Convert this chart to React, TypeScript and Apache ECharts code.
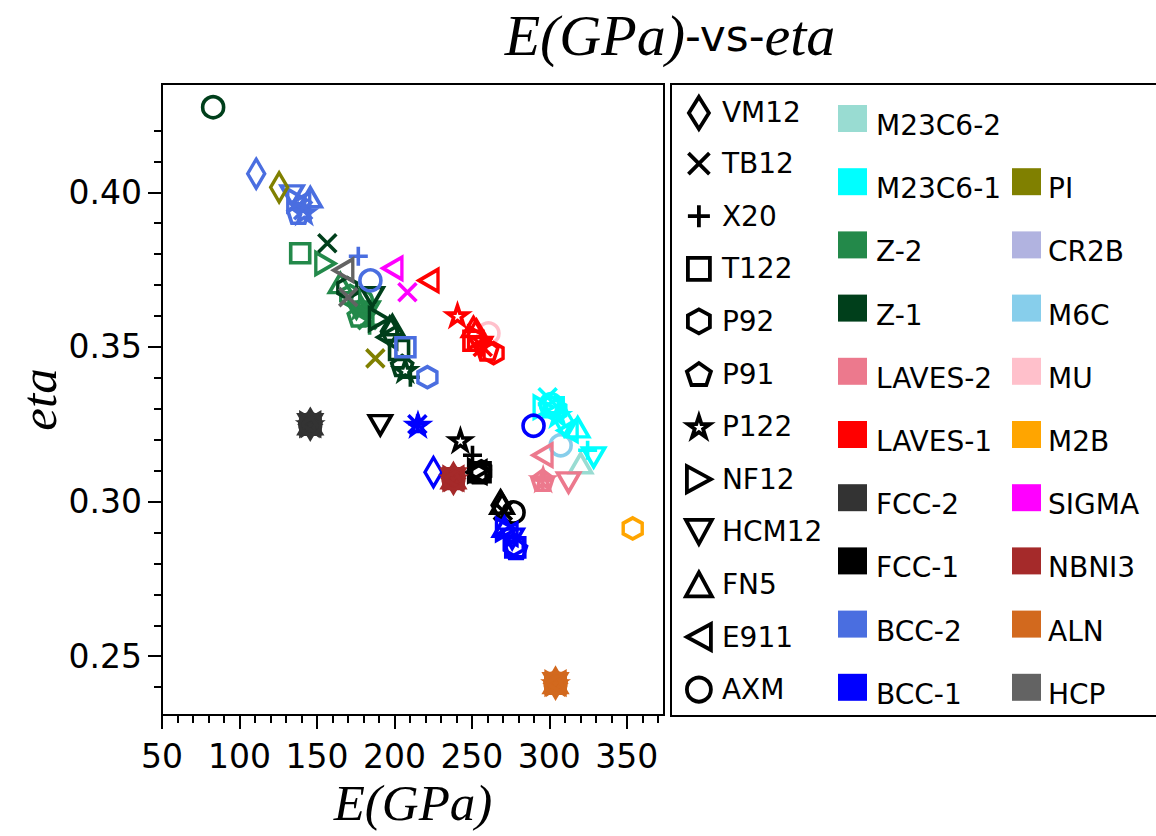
import React, { useEffect, useRef } from 'react';
import * as echarts from 'echarts';

// ---------- data ----------
const materials = ['VM12', 'TB12', 'X20', 'T122', 'P92', 'P91', 'P122', 'NF12', 'HCM12', 'FN5', 'E911', 'AXM'];

const phaseNames = ['M23C6-2', 'M23C6-1', 'Z-2', 'Z-1', 'LAVES-2', 'LAVES-1', 'FCC-2', 'FCC-1', 'BCC-2', 'BCC-1',
  'PI', 'CR2B', 'M6C', 'MU', 'M2B', 'SIGMA', 'NBNI3', 'ALN', 'HCP'];

const phaseColors = ['#99dcd2', '#00ffff', '#23894a', '#003f1b', '#ec798d', '#ff0000', '#333333', '#000000', '#4a6ee0', '#0000ff',
  '#808000', '#b1b3e0', '#87ceeb', '#ffc0cb', '#ffa500', '#ff00ff', '#a52a2a', '#d2691e', '#636363'];

// [material, E (GPa), eta]
const ptsM23C6_2 = [['FN5', 320.2, 0.3124]];
const ptsM23C6_1 = [['TB12', 298.9, 0.3337], ['NF12', 296.3, 0.3305], ['T122', 302.8, 0.3305], ['P92', 304.5, 0.3295],
  ['P91', 300.5, 0.331], ['P122', 305.5, 0.328], ['VM12', 309.5, 0.326], ['FN5', 318.3, 0.324], ['E911', 311.8, 0.323],
  ['X20', 324.7, 0.3166], ['HCM12', 328.6, 0.3143], ['AXM', 301, 0.3315]];
const ptsZ2 = [['T122', 139.2, 0.3803], ['NF12', 155.4, 0.377], ['FN5', 165.1, 0.3706], ['P92', 171.5, 0.3665],
  ['VM12', 175.5, 0.364], ['P122', 178, 0.3628], ['E911', 180, 0.3612], ['HCM12', 183, 0.3615], ['P91', 177, 0.36],
  ['TB12', 182.5, 0.3586], ['X20', 184, 0.357], ['AXM', 179, 0.365]];
const ptsZ1 = [['AXM', 83, 0.4275], ['TB12', 156.7, 0.3835], ['P92', 169.6, 0.369], ['HCM12', 185.7, 0.3661],
  ['NF12', 190, 0.359], ['FN5', 198.7, 0.357], ['VM12', 197, 0.355], ['E911', 195.4, 0.3531], ['T122', 203, 0.349],
  ['P91', 205, 0.344], ['P122', 207, 0.3425], ['X20', 210.3, 0.3402]];
const ptsLaves2 = [['E911', 295.6, 0.315], ['P91', 295.6, 0.3069], ['P122', 296, 0.3072], ['X20', 295.8, 0.307],
  ['HCM12', 312.4, 0.3062]];
const ptsLaves1 = [['E911', 222, 0.3715], ['P122', 240.7, 0.3602], ['FN5', 251, 0.3564], ['VM12', 253, 0.354],
  ['NF12', 254, 0.353], ['T122', 251, 0.352], ['X20', 256, 0.351], ['HCM12', 255.6, 0.35], ['TB12', 257, 0.35],
  ['P91', 260, 0.349], ['P92', 264, 0.348]];
const ptsFcc2 = [['VM12', 145.7, 0.325], ['TB12', 145.7, 0.325], ['X20', 145.7, 0.325], ['T122', 145.7, 0.325],
  ['P92', 145.7, 0.325], ['P91', 145.7, 0.325], ['P122', 145.7, 0.325], ['NF12', 145.7, 0.325], ['HCM12', 145.7, 0.325],
  ['FN5', 145.7, 0.325], ['E911', 145.7, 0.325], ['AXM', 145.7, 0.325]];
const ptsFcc1 = [['HCM12', 190.9, 0.3247], ['P122', 242.6, 0.3198], ['X20', 250.4, 0.315], ['NF12', 254, 0.31],
  ['E911', 253, 0.3095], ['T122', 255.6, 0.3095], ['P91', 255, 0.3093], ['P92', 256, 0.3098], ['VM12', 268.5, 0.2988],
  ['FN5', 269.5, 0.2993], ['TB12', 270, 0.297], ['AXM', 276.9, 0.2965]];
const ptsBcc2 = [['VM12', 110.8, 0.406], ['HCM12', 134, 0.399], ['NF12', 137.3, 0.3974], ['E911', 139.2, 0.3964],
  ['FN5', 145.7, 0.3984], ['TB12', 141.1, 0.3942], ['P91', 138, 0.3932], ['P122', 141.8, 0.3935], ['X20', 176.7, 0.3793],
  ['AXM', 184.5, 0.3715], ['T122', 207.1, 0.3499], ['P92', 221.3, 0.3402]];
const ptsBcc1 = [['TB12', 214.8, 0.325], ['X20', 215, 0.3252], ['P122', 215.2, 0.3248], ['VM12', 225.2, 0.3095],
  ['AXM', 289.8, 0.3245], ['FN5', 271, 0.2918], ['NF12', 272, 0.291], ['E911', 273, 0.2895], ['HCM12', 276, 0.288],
  ['P92', 277, 0.286], ['T122', 278, 0.2852], ['P91', 278.5, 0.2848]];
const ptsPI = [['VM12', 125.6, 0.4016], ['TB12', 187.7, 0.3463]];
const ptsCR2B: any[] = [];
const ptsM6C = [['AXM', 307.3, 0.3182]];
const ptsMU = [['AXM', 260.7, 0.3544]];
const ptsM2B = [['P92', 353.8, 0.2913]];
const ptsSigma = [['E911', 198.7, 0.3754], ['TB12', 208.4, 0.3677]];
const ptsNbni3 = [['VM12', 238.1, 0.3075], ['TB12', 238.1, 0.3075], ['X20', 238.1, 0.3075], ['T122', 238.1, 0.3075],
  ['P92', 238.1, 0.3075], ['P91', 238.1, 0.3075], ['P122', 238.1, 0.3075], ['NF12', 238.1, 0.3075], ['HCM12', 238.1, 0.3075],
  ['FN5', 238.1, 0.3075], ['E911', 238.1, 0.3075], ['AXM', 238.1, 0.3075]];
const ptsAln = [['VM12', 304, 0.2413], ['TB12', 304, 0.2413], ['X20', 304, 0.2413], ['T122', 304, 0.2413],
  ['P92', 304, 0.2413], ['P91', 304, 0.2413], ['P122', 304, 0.2413], ['NF12', 304, 0.2413], ['HCM12', 304, 0.2413],
  ['FN5', 304, 0.2413], ['E911', 304, 0.2413], ['AXM', 304, 0.2413]];
const ptsHcp = [['E911', 167, 0.3748], ['TB12', 170.2, 0.3661]];

const phasePoints: any[] = [ptsM23C6_2, ptsM23C6_1, ptsZ2, ptsZ1, ptsLaves2, ptsLaves1, ptsFcc2, ptsFcc1, ptsBcc2, ptsBcc1,
  ptsPI, ptsCR2B, ptsM6C, ptsMU, ptsM2B, ptsSigma, ptsNbni3, ptsAln, ptsHcp];

const xMajor = [50, 100, 150, 200, 250, 300, 350];
const xMinor = [60, 70, 80, 90, 110, 120, 130, 140, 160, 170, 180, 190, 210, 220, 230, 240, 260, 270, 280, 290, 310, 320, 330, 340, 360, 370];
const yMajor = [0.25, 0.3, 0.35, 0.4];
const yMinor = [0.24, 0.26, 0.27, 0.28, 0.29, 0.31, 0.32, 0.33, 0.34, 0.36, 0.37, 0.38, 0.39, 0.41, 0.42];

// ---------- marker styles ----------
const SYM: Record<string, { icon: string; size: number[]; lsize: number[] }> = {
  VM12: { icon: 'path://M3,0L6,5L3,10L0,5Z', size: [17, 29], lsize: [20, 32] },
  TB12: { icon: 'path://M0,0L10,10M10,0L0,10', size: [18, 18], lsize: [21, 21] },
  X20: { icon: 'path://M5,0L5,10M0,5L10,5', size: [19, 19], lsize: [22, 22] },
  T122: { icon: 'rect', size: [19, 19], lsize: [22, 22] },
  P92: { icon: 'path://M5,0L9.33,2.5L9.33,7.5L5,10L0.67,7.5L0.67,2.5Z', size: [19, 21], lsize: [22, 24] },
  P91: { icon: 'path://M5,0L9.755,3.455L7.939,9.045L2.061,9.045L0.245,3.455Z', size: [21, 20], lsize: [24, 22] },
  P122: { icon: 'path://M5,0L6.123,3.455L9.755,3.455L6.816,5.59L7.939,9.045L5,6.91L2.061,9.045L3.184,5.59L0.245,3.455L3.877,3.455Z', size: [20, 19], lsize: [22, 21] },
  NF12: { icon: 'path://M0,0L8.66,5L0,10Z', size: [19, 22], lsize: [24, 26] },
  HCM12: { icon: 'path://M0,0L10,0L5,8.66Z', size: [22, 19], lsize: [26, 24] },
  FN5: { icon: 'path://M5,0L10,8.66L0,8.66Z', size: [22, 19], lsize: [26, 24] },
  E911: { icon: 'path://M0,5L8.66,0L8.66,10Z', size: [19, 22], lsize: [24, 26] },
  AXM: { icon: 'circle', size: [21, 21], lsize: [24, 24] },
};

const FS_LEG = 28;

export default function App() {
  const ref = useRef<HTMLDivElement>(null);
  useEffect(() => {
    if (!ref.current) return;
    const chart = echarts.init(ref.current, undefined, { renderer: 'svg' });

    const phaseSeries = phaseNames.map((name, i) => ({
      type: 'scatter',
      name,
      xAxisIndex: 0,
      yAxisIndex: 0,
      z: name === 'MU' || name === 'M6C' ? 1 : 2,
      silent: true,
      itemStyle: { color: 'rgba(0,0,0,0)', borderColor: phaseColors[i], borderWidth: 3.6, opacity: 1 },
      data: phasePoints[i].map((p: any) => ({
        value: [p[1], p[2]],
        symbol: SYM[p[0]].icon,
        symbolSize: SYM[p[0]].size,
      })),
    }));

    const materialSeries = materials.map((m) => ({
      type: 'scatter',
      name: m,
      xAxisIndex: 0,
      yAxisIndex: 0,
      symbol: SYM[m].icon,
      itemStyle: { color: 'rgba(0,0,0,0)', borderColor: '#000', borderWidth: 3.6, opacity: 1 },
      data: [],
    }));

    const legends: any[] = [];
    materials.forEach((m, i) => {
      const [w, h] = SYM[m].lsize;
      const cy = 111 + 52.6 * i;
      const left = 697 - w / 2;
      const H = Math.max(h, 30);
      legends.push({
        selectedMode: false,
        orient: 'vertical',
        left,
        top: cy - H / 2,
        padding: 0,
        itemWidth: w,
        itemHeight: h,
        symbolKeepAspect: false,
        data: [{ name: m, icon: SYM[m].icon, itemStyle: { color: 'rgba(0,0,0,0)', borderColor: '#000', borderWidth: 3.8, opacity: 1 } }],
        textStyle: { fontSize: FS_LEG, fontFamily: 'DejaVu Sans', color: '#000', lineHeight: 30, padding: [0, 0, 0, 720 - (left + w + 5)] },
      });
    });
    phaseNames.forEach((p, i) => {
      const col = i < 10 ? 0 : 1;
      const row = i < 10 ? i : i - 9;
      const left = col === 0 ? 838 : 1012;
      const cp = 119.5 + 63.2 * row;
      legends.push({
        selectedMode: false,
        orient: 'vertical',
        left,
        top: cp - 22,
        padding: 0,
        itemWidth: 29,
        itemHeight: 27,
        formatter: '{t|{name}}',
        data: [{ name: p, icon: 'rect', itemStyle: { color: phaseColors[i], borderWidth: 0, opacity: 1 } }],
        textStyle: {
          fontSize: FS_LEG, fontFamily: 'DejaVu Sans', color: '#000',
          rich: {
            t: { fontSize: FS_LEG, fontFamily: 'DejaVu Sans', color: '#000', lineHeight: 30, padding: [14, 0, 0, col === 0 ? 4 : 2] },
          },
        },
      });
    });

    const axisText = { fontSize: 33, fontFamily: 'DejaVu Sans', color: '#000' };
    const nameText = { fontFamily: 'Liberation Serif', fontStyle: 'italic', fontSize: 51, color: '#000' };

    chart.setOption({
      animation: false,
      backgroundColor: '#fff',
      grid: { left: 162, right: 492, top: 84, bottom: 121, show: true, borderColor: '#000', borderWidth: 2, containLabel: false },
      xAxis: [
        {
          type: 'value', min: 50, max: 374, position: 'bottom',
          axisLine: { show: true, onZero: false, lineStyle: { color: '#000', width: 2 } },
          axisTick: { show: true, length: 14, lineStyle: { color: '#000', width: 2 }, customValues: xMajor },
          axisLabel: { ...axisText, margin: 25, customValues: xMajor },
          splitLine: { show: false },
          name: 'E(GPa)', nameLocation: 'middle', nameGap: 60, nameTextStyle: nameText,
        },
        {
          type: 'value', min: 50, max: 374, position: 'bottom',
          axisLine: { show: false },
          axisTick: { show: true, length: 8, lineStyle: { color: '#000', width: 2 }, customValues: xMinor },
          axisLabel: { show: false },
          splitLine: { show: false },
        },
      ],
      yAxis: [
        {
          type: 'value', min: 0.231, max: 0.435, position: 'left',
          axisLine: { show: true, onZero: false, lineStyle: { color: '#000', width: 2 } },
          axisTick: { show: true, length: 14, lineStyle: { color: '#000', width: 2 }, customValues: yMajor },
          axisLabel: { ...axisText, margin: 20, customValues: yMajor, formatter: (v: number) => v.toFixed(2) },
          splitLine: { show: false },
          name: 'eta', nameLocation: 'middle', nameGap: 96, nameTextStyle: nameText,
        },
        {
          type: 'value', min: 0.231, max: 0.435, position: 'left',
          axisLine: { show: false },
          axisTick: { show: true, length: 8, lineStyle: { color: '#000', width: 2 }, customValues: yMinor },
          axisLabel: { show: false },
          splitLine: { show: false },
        },
      ],
      legend: legends,
      graphic: [
        {
          type: 'rect', shape: { x: 671, y: 84, width: 520, height: 632 },
          style: { fill: 'none', stroke: '#000', lineWidth: 2 },
        },
        {
          type: 'text', x: 670, y: 35,
          style: {
            text: '{i|E(GPa)}{s|-vs-}{i|eta}',
            textAlign: 'center', textVerticalAlign: 'middle',
            rich: {
              i: { fontFamily: 'Liberation Serif', fontStyle: 'italic', fontSize: 58, fill: '#000' },
              s: { fontFamily: 'DejaVu Sans', fontSize: 44, fill: '#000' },
            },
          },
        },
      ],
      series: [...materialSeries, ...phaseSeries],
    });
    return () => chart.dispose();
  }, []);
  return <div ref={ref} style={{ position: 'fixed', left: 0, top: 0, width: 1156, height: 836 }} />;
}
